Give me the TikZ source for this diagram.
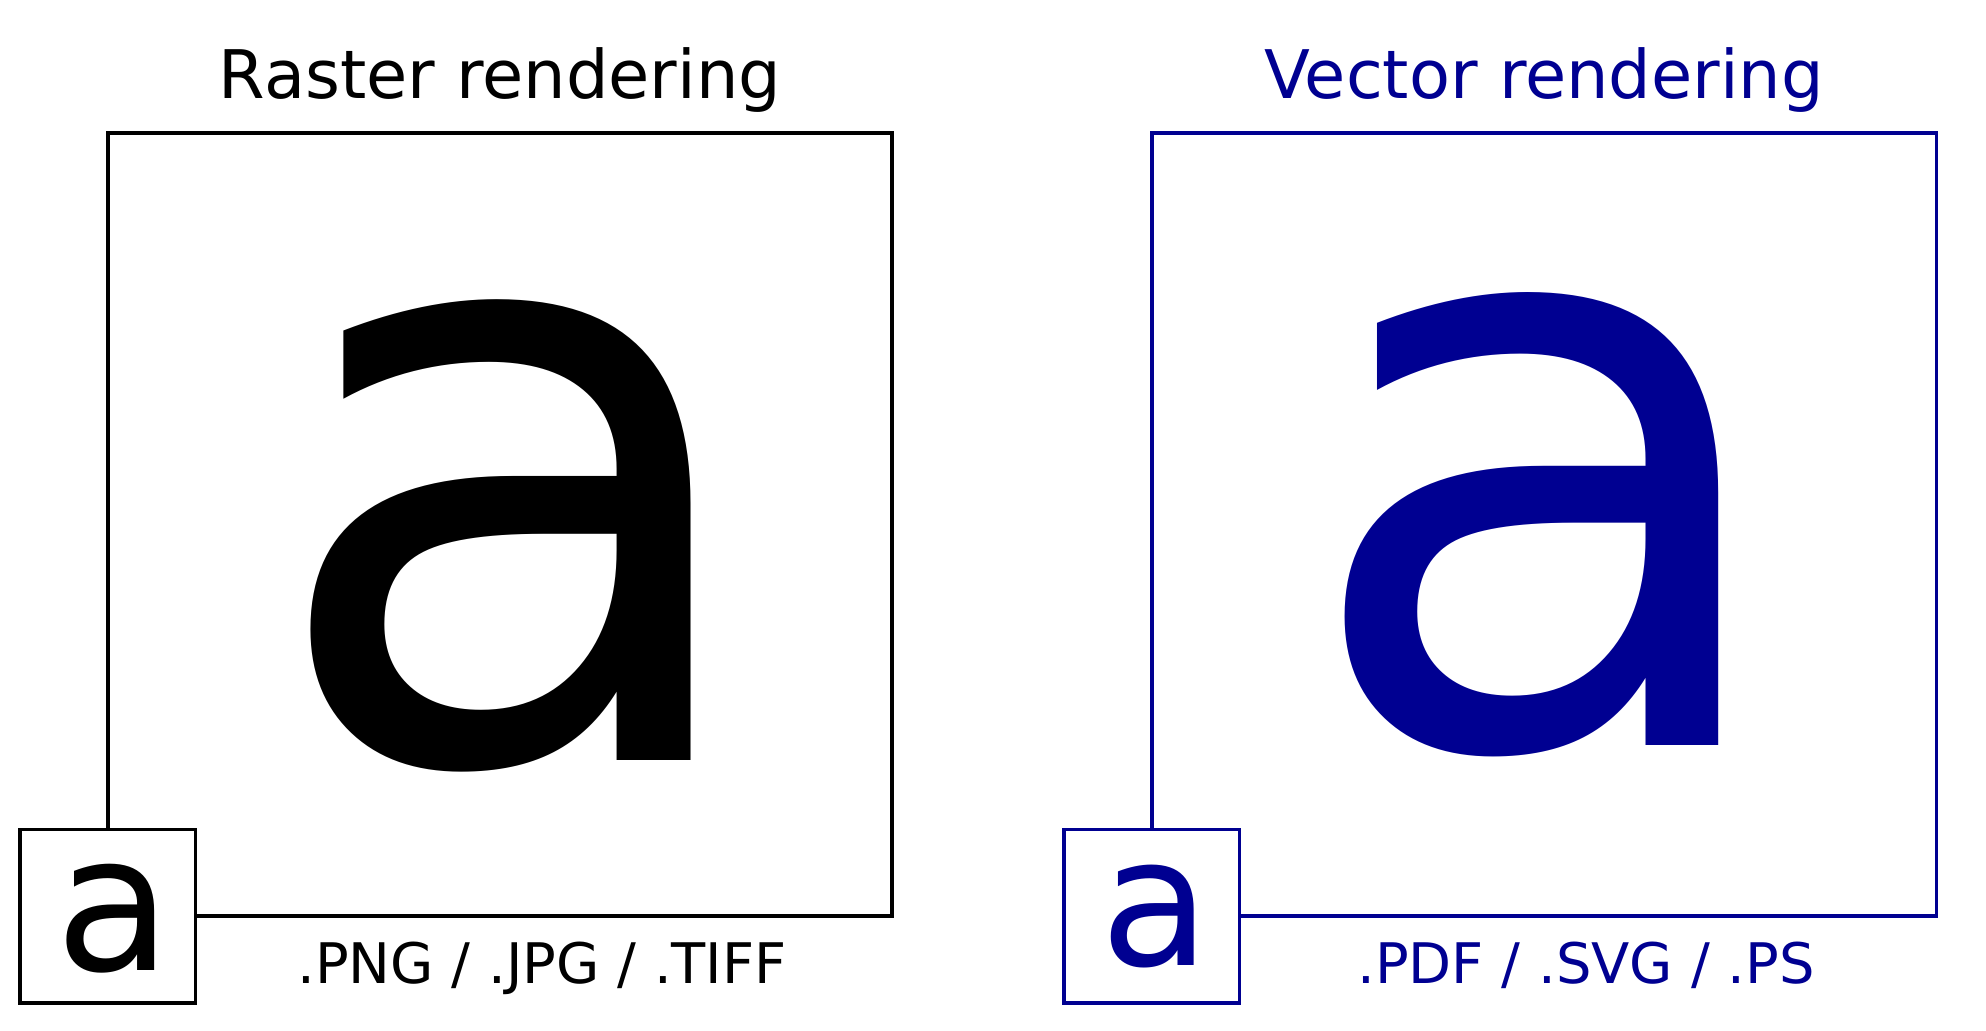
\documentclass[tikz,border=0pt]{standalone}
\usepackage{fontspec}
\setmainfont{DejaVu Sans}
\definecolor{vecblue}{RGB}{0,0,145}
\usetikzlibrary{positioning}

\begin{document}
\begin{tikzpicture}[x=0.01cm,y=-0.01cm,
  bigbox/.style={draw,line width=1pt,minimum width=7.84cm,minimum height=7.83cm,
    inner sep=0pt,outer sep=0pt,font=\fontsize{230}{230}\selectfont},
  thumbbox/.style={draw,fill=white,line width=1pt,minimum width=1.75cm,minimum height=1.73cm,
    inner sep=0pt,outer sep=0pt},
  glyph/.style={inner sep=0pt,outer sep=0pt},
  headtext/.style={inner sep=0pt,outer sep=0pt,font=\fontsize{19.06}{19.06}\selectfont},
  fmttext/.style={anchor=base,inner sep=0pt,font=\fontsize{15.9}{15.9}\selectfont}
]
  \useasboundingbox (0,0) rectangle (1986,1030);
  % Raster side
  \node[bigbox] (rasterbox) at (500,524.5) {};
  \node[glyph,font=\fontsize{234}{234}\selectfont] (rasterletter)
    at ([xshift=4pt,yshift=-3.3pt]rasterbox.center) {a};
  \node[thumbbox] (rasterthumb) at (rasterbox.south west) {};
  \node[glyph,font=\fontsize{54}{54}\selectfont] (rasterthumbletter)
    at ([xshift=1.7pt,yshift=-0.8pt]rasterthumb.center) {a};
  \node[headtext,above=5.7pt of rasterbox] (rastertitle) {Raster rendering};
  \node[fmttext] (rasterfmt) at (542,983) {.PNG / .JPG / .TIFF};
  % Vector side
  \node[bigbox,draw=vecblue,text=vecblue] (vectorbox) at (1544,524.5) {a};
  \node[thumbbox,draw=vecblue] (vectorthumb) at (vectorbox.south west) {};
  \node[glyph,text=vecblue,font=\fontsize{51}{51}\selectfont] (vectorthumbletter)
    at ([xshift=1.1pt]vectorthumb.center) {a};
  \node[headtext,text=vecblue,above=5.7pt of vectorbox] (vectortitle) {Vector rendering};
  \node[fmttext,text=vecblue] (vectorfmt) at (1586,983) {.PDF / .SVG / .PS};
\end{tikzpicture}
\end{document}
